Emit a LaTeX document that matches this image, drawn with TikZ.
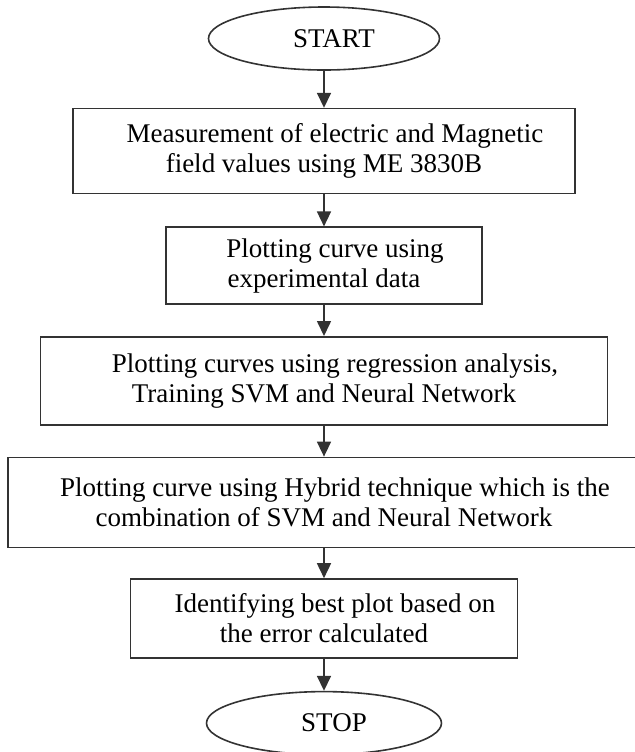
\documentclass[tikz,border=0pt]{standalone}
\usepackage{fontspec}
\setmainfont{Liberation Serif}
\usetikzlibrary{arrows.meta,positioning,shapes.geometric}

\begin{document}
\begin{tikzpicture}[node distance=15.5pt,>={Triangle[width=7pt,length=7.5pt]},
  box/.style={draw=black!80,line width=0.8pt,align=center,inner sep=0pt,
  font=\fontsize{13.5}{15}\selectfont},
  term/.style={box,ellipse}]
\useasboundingbox (0,0) rectangle (317pt,-376pt);
\node[term,minimum width=115.5pt,minimum height=31.5pt] (start) at (162pt,-19.25pt) {\hspace*{10pt}START};
\node[box,minimum width=251pt,minimum height=42.5pt,below=18.5pt of start] (meas) {\hspace*{11pt}Measurement of electric and Magnetic\\field values using ME 3830B};
\node[box,minimum width=158pt,minimum height=38.5pt,below=16pt of meas] (expt) {\hspace*{11pt}Plotting curve using\\experimental data};
\node[box,minimum width=283.5pt,minimum height=44pt,below=of expt] (regr) {\hspace*{11pt}Plotting curves using regression analysis,\\Training SVM and Neural Network};
\node[box,minimum width=316pt,minimum height=45pt,below=of regr] (hyb) {\hspace*{11pt}Plotting curve using Hybrid technique which is the\\combination of SVM and Neural Network};
\node[box,minimum width=193.5pt,minimum height=39.5pt,below=15pt of hyb] (best) {\hspace*{11pt}Identifying best plot based on\\the error calculated};
\node[term,minimum width=117.5pt,minimum height=31.5pt,below=16pt of best] (stop) {\hspace*{10pt}STOP};
\foreach \a/\b in {start/meas,meas/expt,expt/regr,regr/hyb,hyb/best,best/stop}
  \draw[->,draw=black!80,line width=0.8pt] (\a)--(\b);
\end{tikzpicture}
\end{document}
